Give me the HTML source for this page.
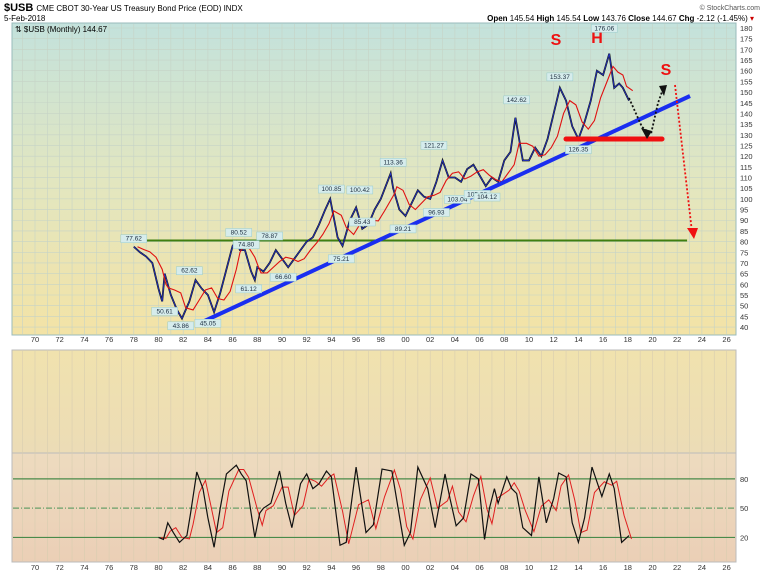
<!DOCTYPE html>
<html><head><meta charset="utf-8"><style>
body{margin:0;background:#fff;font-family:"Liberation Sans",sans-serif}
svg text{font-family:"Liberation Sans",sans-serif}
</style></head><body>
<svg id="c" width="765" height="575" xmlns="http://www.w3.org/2000/svg">
<defs>
<linearGradient id="gm" x1="0" y1="0" x2="0" y2="1"><stop offset="0" stop-color="#c3e2dc"/><stop offset="0.5" stop-color="#e2e6c0"/><stop offset="1" stop-color="#f3e3a6"/></linearGradient>
<linearGradient id="gl" x1="0" y1="0" x2="0" y2="1"><stop offset="0" stop-color="#f0e2ae"/><stop offset="1" stop-color="#ecdcb6"/></linearGradient>
<linearGradient id="gs" x1="0" y1="0" x2="0" y2="1"><stop offset="0" stop-color="#eddbbf"/><stop offset="1" stop-color="#ebcfb6"/></linearGradient>
</defs>
<text x="4" y="11" font-size="11" font-weight="bold">$USB <tspan font-size="8" font-weight="normal">CME CBOT 30-Year US Treasury Bond Price (EOD)  INDX</tspan></text>
<text x="4" y="21" font-size="8">5-Feb-2018</text>
<text x="760" y="10" font-size="7" text-anchor="end" fill="#555">© StockCharts.com</text>
<text x="754" y="21" font-size="8" text-anchor="end"><tspan font-weight="bold">Open</tspan> 145.54 <tspan font-weight="bold">High</tspan> 145.54 <tspan font-weight="bold">Low</tspan> 143.76 <tspan font-weight="bold">Close</tspan> 144.67 <tspan font-weight="bold">Chg</tspan> -2.12 (-1.45%) <tspan fill="#c00">▾</tspan></text>
<rect x="12" y="23" width="724" height="312" fill="url(#gm)" stroke="#9bb"/>
<rect x="12" y="350" width="724" height="103" fill="url(#gl)" stroke="#bbb"/>
<rect x="12" y="453" width="724" height="109" fill="url(#gs)" stroke="#bbb"/>
<g id="grid"></g>
<g id="marks"></g>
<text x="15" y="32" font-size="8">⇅ $USB (Monthly) 144.67</text>
</svg>
<script>
const priceYears=[1978,1978.5,1979,1979.5,1980,1980.3,1980.5,1981,1981.5,1981.9,1982.5,1983,1983.5,1984,1984.5,1985,1985.5,1986,1986.3,1986.6,1987,1987.5,1987.8,1988,1988.5,1989,1989.5,1990,1990.5,1991,1991.5,1992,1992.5,1993,1993.5,1993.9,1994.5,1994.9,1995.5,1996,1996.5,1997,1997.5,1998,1998.8,1999,1999.5,2000,2000.5,2001,2001.5,2002,2002.5,2003,2003.5,2004,2004.5,2005,2005.5,2006,2006.5,2007,2007.5,2008,2008.5,2008.9,2009.5,2010,2010.5,2011,2011.5,2012,2012.5,2013,2013.5,2014,2014.5,2015,2015.5,2016,2016.5,2016.9,2017.3,2017.6,2018.1];
const priceClose=[77.6,75,73,70,58,52,65,55,48,44,52,62,58,55,47,56,67,78,80,76,76,66,62,68,66,70,76,72,68,72,76,80,82,88,95,100,82,78,90,96,86,88,95,100,112,105,95,92,98,104,101,100,108,118,110,110,108,114,116,111,106,110,108,118,122,138,118,118,124,120,128,140,152,146,134,128,136,146,160,158,168,152,154,152,146];
const stochYears=[1980,1980.4,1980.75,1981.2,1981.7,1982.3,1982.6,1983.1,1983.6,1984,1984.5,1985,1985.5,1986.3,1986.7,1987.1,1987.8,1988.2,1988.5,1989.1,1989.8,1990.3,1990.8,1991.5,1992,1992.5,1993,1993.6,1994,1994.7,1995.2,1996,1996.8,1997.4,1998.1,1998.9,1999.4,1999.9,2000.4,2001,2001.8,2002.4,2003.2,2003.6,2004.1,2004.7,2005.3,2005.9,2006.4,2006.8,2007.2,2007.5,2008.2,2008.6,2009,2009.5,2010.2,2010.8,2011.4,2012,2012.4,2013,2013.5,2014,2014.5,2015.1,2015.9,2016.5,2016.9,2017.5,2018.1];
const stochK=[20,18,35,25,15,22,45,87,70,40,10,50,85,94,85,78,20,45,50,55,88,55,30,75,85,70,75,88,82,12,15,92,25,33,90,88,50,12,25,92,70,30,85,60,32,40,85,80,18,50,70,55,82,70,65,30,22,82,35,60,86,82,35,15,40,92,62,85,70,15,22];
const yTicks=[40,45,50,55,60,65,70,75,80,85,90,95,100,105,110,115,120,125,130,135,140,145,150,155,160,165,170,175,180];
const xTickYears=[1970,1972,1974,1976,1978,1980,1982,1984,1986,1988,1990,1992,1994,1996,1998,2000,2002,2004,2006,2008,2010,2012,2014,2016,2018,2020,2022,2024,2026];
const annYears=[1978,1982.5,1980.5,1981.8,1984,1986.5,1987.1,1987.3,1989,1990.1,1994,1996.3,1996.5,1994.8,1999,1999.8,2002.5,2002.3,2004.2,2005.8,2006.6,2009,2012.5,2014,2016.1];
const annVals=[77.62,62.62,50.61,43.86,45.05,80.52,74.80,61.12,78.87,66.60,100.85,100.42,85.43,75.21,113.36,89.21,96.93,121.27,103.04,105.38,104.12,142.62,153.37,126.35,176.06];
const NS="http://www.w3.org/2000/svg";
const X=y=>35+(y-1970)*12.35;
const Y=p=>28+(180-p)*2.136;
const SY=v=>557-v*0.977;
const grid=document.getElementById('grid'),marks=document.getElementById('marks');
function mk(tag,at,par){const e=document.createElementNS(NS,tag);for(const k in at)e.setAttribute(k,at[k]);(par||marks).appendChild(e);return e;}
for(let yr=1969;yr<=2027;yr++){const x=X(yr);if(x<13||x>735)continue;
 let l=mk('line',{x1:x,x2:x,y1:24,y2:334,stroke:'#c6d3c6','stroke-width':0.6},grid);
 
 let l2=mk('line',{x1:x,x2:x,y1:351,y2:561,stroke:'#d8cdb0','stroke-width':0.6},grid);
 }
yTicks.forEach(p=>{const y=Y(p);
 let l=mk('line',{x1:13,x2:735,y1:y,y2:y,stroke:'#c6d3c6','stroke-width':0.6},grid);
 
 let t=mk('text',{x:740,y:y+3,'font-size':7.5,fill:'#333'},grid);t.textContent=p;
 });
xTickYears.forEach(yr=>{const s=String(yr%100).padStart(2,'0');
 [342,570].forEach(yy=>{let t=mk('text',{x:X(yr),y:yy,'font-size':7.5,'text-anchor':'middle',fill:'#333'},grid);t.textContent=s;
 });});
[[80,'#4a8a4a','none'],[50,'#6aa06a','6 2 1 2'],[20,'#4a8a4a','none']].forEach(([v,c,d])=>{
 let l=mk('line',{x1:13,x2:735,y1:SY(v),y2:SY(v),stroke:c,'stroke-width':1.2,'stroke-dasharray':d});
 
 let t=mk('text',{x:740,y:SY(v)+3,'font-size':7.5,fill:'#333'});t.textContent=v;
 });
let g=mk('line',{x1:X(1977.7),x2:X(2022.8),y1:Y(80.5),y2:Y(80.5),stroke:'#3f7f10','stroke-width':2});

const pts=priceYears.map((yr,i)=>X(yr)+','+Y(priceClose[i])).join(' ');
const ma=priceClose.map((v,i)=>{const a=priceClose.slice(Math.max(0,i-2),i+1);return a.reduce((s,q)=>s+q,0)/a.length;});
const mapts=priceYears.map((yr,i)=>X(yr+0.3)+','+Y(ma[i])).join(' ');
let pb=mk('polyline',{points:pts,fill:'none',stroke:'#111','stroke-width':1.8});

let pl=mk('polyline',{points:pts,fill:'none',stroke:'#2233cc','stroke-width':0.8});

let pm=mk('polyline',{points:mapts,fill:'none',stroke:'#e01010','stroke-width':1.1});

let tl=mk('line',{x1:198,y1:324,x2:690,y2:96,stroke:'#1a2ef0','stroke-width':4});

let nl=mk('line',{x1:566,y1:139,x2:662,y2:139,stroke:'#f01010','stroke-width':5,'stroke-linecap':'round'});

let a1=mk('polyline',{points:'629,98 642,127 651,134 658,103 663,89',fill:'none',stroke:'#111','stroke-width':1.8,'stroke-dasharray':'2 2'});

let h1=mk('polygon',{points:'641,128 652,131 647,139',fill:'#111'});
let h2=mk('polygon',{points:'659,86 667,85 664,96',fill:'#111'});
let a2=mk('line',{x1:675,y1:85,x2:692,y2:232,stroke:'#f01010','stroke-width':1.8,'stroke-dasharray':'2 2'});

let h3=mk('polygon',{points:'687,228 698,228 694,239',fill:'#f01010'});
[['S',556,45],['H',597,43],['S',666,75]].forEach(([s,x,y])=>{let t=mk('text',{x,y,'font-size':16,'font-weight':'bold',fill:'#ee1111','text-anchor':'middle'});t.textContent=s;
 });
annYears.forEach((yr,i)=>{const v=annVals[i];const x=X(yr);const lowish=[2,3,4,7,9,13,15,16,18,19,20,23].includes(i);
 const y=lowish?Y(v)+9:Y(v)-6;
 let r=mk('rect',{x:x-13,y:y-6,width:26,height:8,fill:'#d6ecec',stroke:'#9cc','stroke-width':0.5});
 
 let t=mk('text',{x,y:y,'font-size':6.5,'text-anchor':'middle',fill:'#234'});t.textContent=v.toFixed(2);
 });
const sp=stochYears.map((yr,i)=>X(yr)+','+SY(stochK[i])).join(' ');
const sd=stochK.map((v,i)=>{const a=stochK.slice(Math.max(0,i-1),i+1);return a.reduce((s,q)=>s+q,0)/a.length;});
const sdp=stochYears.map((yr,i)=>X(yr+0.2)+','+SY(sd[i])).join(' ');
let s2=mk('polyline',{points:sdp,fill:'none',stroke:'#e02020','stroke-width':1});

let s1=mk('polyline',{points:sp,fill:'none',stroke:'#111','stroke-width':1.2});

</script>
</body></html>
